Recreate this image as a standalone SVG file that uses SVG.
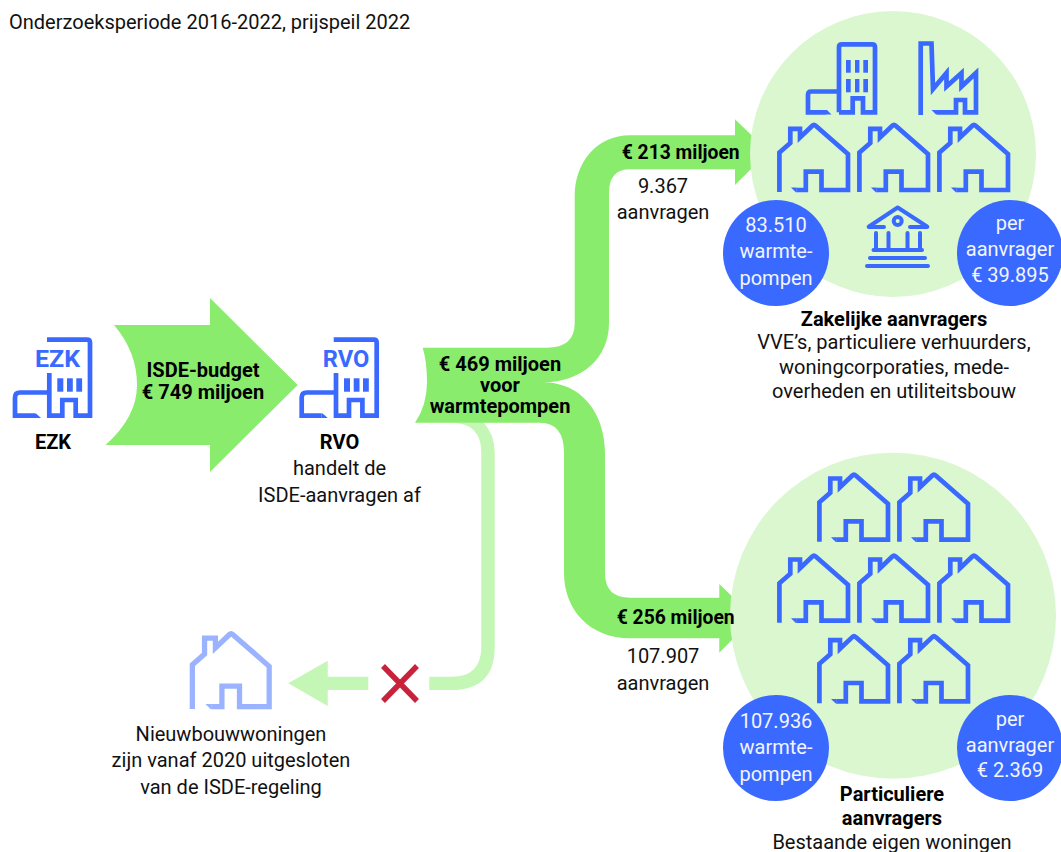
<svg xmlns="http://www.w3.org/2000/svg" width="1061" height="852" viewBox="0 0 1061 852">
<style>
text{font-family:Roboto,"Liberation Sans",sans-serif;font-size:20px;fill:#111;text-anchor:middle}
.b{font-weight:700;fill:#000}
.s{font-size:19.3px}
.w{fill:#f2f5ff}
.ic{fill:none;stroke:#3a69ff;stroke-width:4.700;stroke-linejoin:miter}
.win{fill:#3a69ff}
.big{fill:#8aec6c}
.pale{fill:#c4f6b5}
.disc{fill:#daf7d0}
.dot{fill:#3a69ff}
.lab{font-weight:700;font-size:23px;fill:#3a69ff}
</style>
<defs>
<g id="house"><path class="ic" d="M2.100 70V30.500L13 21V6.800H22.700V15.500L35 3.800Q36.700 2.200 38.400 3.800L70.700 32V68H44.200V49.700H28.500V68H19"/><path class="win" d="M13.700 65.600H19.200V70.300H18.500Z"/></g>
<g id="office"><path class="ic" d="M47 339.700H87Q90 339.700 90 342.700V415.700H75.700V400H62.300V415.700H49.300V373M49.300 392.500H20Q15 392.500 15 397.500V415.700H35"/><path class="win" d="M35 413.400H36L41 418H35Z"/>
<rect class="win" x="57.300" y="378.300" width="6" height="13.400"/><rect class="win" x="67" y="378.300" width="5.800" height="13.400"/><rect class="win" x="76.300" y="378.300" width="5.800" height="13.400"/></g>
</defs>
<rect width="1061" height="852" fill="#fff"/>
<text x="9" y="29" style="text-anchor:start">Onderzoeksperiode 2016-2022, prijspeil 2022</text>
<g id="connectors">
<path class="pale" d="M483 422Q494.700 434 494.700 453V646.700Q494.700 690 451.700 690H429.300V676.700H451.700Q481.300 676.700 481.300 646.700V453Q481.300 422.700 451.700 422.700Z"/>
<path class="pale" d="M288.300 683.300L327.700 660.700V676.700H368.300V690H327.700V706Z"/>
<path id="x" d="M383 666L417 701M417 666L383 701" fill="none" stroke="#c8233c" stroke-width="5.500"/>
<path class="big" d="M114 325H210V298L297.700 385L210 472V445H105.500Q137 417 137 385Q137 352 114 325Z"/>
<path class="big" d="M422.700 347.700H546.700Q574.700 347.700 574.700 323V196.700C574.700 162 597 135.300 630 135.300H735V119.300L768.500 151.700L735 185V169.300H630Q609 169.300 609 193V323C609 358 582 382.300 543 382.300C582 382.300 605 414 605 453V573Q605 597.700 630 597.700H719.300V584L754 617.700L719.300 652.700V638.300H630C590 638.300 564 610 564 573V453Q564 422.700 540 422.700H415Q427 405 427 382Q427 362 422.700 347.700Z"/>
</g>
<g id="zakelijk">
<circle class="disc" cx="893" cy="154" r="143"/>
<g id="tower"><path class="ic" d="M839 112.300V47Q839 44.300 842 44.300H872Q875 44.300 875 47V112.300H863V98.300H852.700V112.300H839M839 91.500H811Q808 91.500 808 95V112.300H826"/><path class="win" d="M826 110H827L831.500 114.600H826Z"/>
<rect class="win" x="846" y="60" width="4.700" height="12.700"/><rect class="win" x="855" y="60" width="4.400" height="12.700"/><rect class="win" x="863.300" y="60" width="4.700" height="12.700"/>
<rect class="win" x="846" y="79" width="4.700" height="13.300"/><rect class="win" x="855" y="79" width="4.400" height="13.300"/><rect class="win" x="863.300" y="79" width="4.700" height="13.300"/></g>
<g id="factory"><path class="ic" d="M920.700 115V43.500H931.500L933 89L946.500 73V86.500L961.500 73V86.500L976 73V112.300H965V100H956V112.300H937"/><path class="win" d="M931.500 110H937V114.600H936Z"/></g>
<use href="#house" x="777.300" y="122"/><use href="#house" x="857.300" y="122"/><use href="#house" x="937.300" y="122"/>
<g id="bank" fill="none" stroke="#3a69ff" stroke-width="4" stroke-linecap="round" stroke-linejoin="round">
<path d="M869 226.500L897.700 207.500L927 226.500Q928 227 926 227H910M884 227H870Q868 227 869 226.500"/><circle cx="897.700" cy="221" r="4"/>
<path d="M876 233V248M888.500 233V248M907.500 233V248M920 233V248M873.500 250H922M870 258H925M867 266H928"/>
</g>
<circle class="dot" cx="776" cy="253" r="53"/><circle class="dot" cx="1010" cy="253" r="53"/>
<text class="w"><tspan x="776" y="232">83.510</tspan><tspan x="776" y="258">warmte-</tspan><tspan x="776" y="285">pompen</tspan></text>
<text class="w"><tspan x="1010" y="230">per</tspan><tspan x="1010" y="256">aanvrager</tspan><tspan x="1010" y="282">€ 39.895</tspan></text>
<text><tspan class="b" x="894" y="326">Zakelijke aanvragers</tspan><tspan x="894" y="349">VVE’s, particuliere verhuurders,</tspan><tspan x="894" y="374">woningcorporaties, mede-</tspan><tspan x="894" y="398">overheden en utiliteitsbouw</tspan></text>
</g>
<g id="particulier">
<circle class="disc" cx="893" cy="615.700" r="163"/>
<use href="#house" x="817.300" y="471.700"/><use href="#house" x="897.300" y="471.700"/>
<use href="#house" x="777.300" y="552.700"/><use href="#house" x="857.300" y="552.700"/><use href="#house" x="937.300" y="552.700"/>
<use href="#house" x="817.300" y="633.300"/><use href="#house" x="897.300" y="633.300"/>
<circle class="dot" cx="776" cy="748" r="53"/><circle class="dot" cx="1010" cy="748" r="53"/>
<text class="w"><tspan x="776" y="728">107.936</tspan><tspan x="776" y="754">warmte-</tspan><tspan x="776" y="781">pompen</tspan></text>
<text class="w"><tspan x="1010" y="726">per</tspan><tspan x="1010" y="752">aanvrager</tspan><tspan x="1010" y="777">€ 2.369</tspan></text>
<text><tspan class="b" x="892" y="801">Particuliere</tspan><tspan class="b" x="892" y="825">aanvragers</tspan><tspan x="892" y="849">Bestaande eigen woningen</tspan></text>
</g>
<g id="ezk"><use href="#office"/><text class="lab" x="57.500" y="366.500" textLength="45" lengthAdjust="spacingAndGlyphs">EZK</text><text class="b" x="53" y="449">EZK</text></g>
<g id="rvo"><use href="#office" transform="translate(286.700 0)"/><text class="lab" x="346" y="366.500" textLength="46.500" lengthAdjust="spacingAndGlyphs">RVO</text><text><tspan class="b" x="339.500" y="449">RVO</tspan><tspan x="339.500" y="475">handelt de</tspan><tspan x="339.500" y="501.500">ISDE-aanvragen af</tspan></text></g>
<g id="nieuwbouw">
<use href="#house" transform="translate(190 630.500) scale(1.120)" opacity="0.5"/>
<text><tspan x="231" y="741">Nieuwbouwwoningen</tspan><tspan x="231" y="767">zijn vanaf 2020 uitgesloten</tspan><tspan x="231" y="794">van de ISDE-regeling</tspan></text>
</g>
<g id="flowlabels">
<text class="b"><tspan x="203" y="377">ISDE-budget</tspan><tspan x="203" y="398.500">€ 749 miljoen</tspan></text>
<text class="b"><tspan x="500" y="371">€ 469 miljoen</tspan><tspan x="500" y="392">voor</tspan><tspan x="500" y="412.500">warmtepompen</tspan></text>
<text class="b s" x="680.700" y="159">€ 213 miljoen</text><text><tspan x="663" y="192.500">9.367</tspan><tspan x="663" y="219">aanvragen</tspan></text>
<text class="b s" x="675.700" y="623.500">€ 256 miljoen</text><text><tspan x="663" y="663">107.907</tspan><tspan x="663" y="690">aanvragen</tspan></text>
</g>
</svg>
